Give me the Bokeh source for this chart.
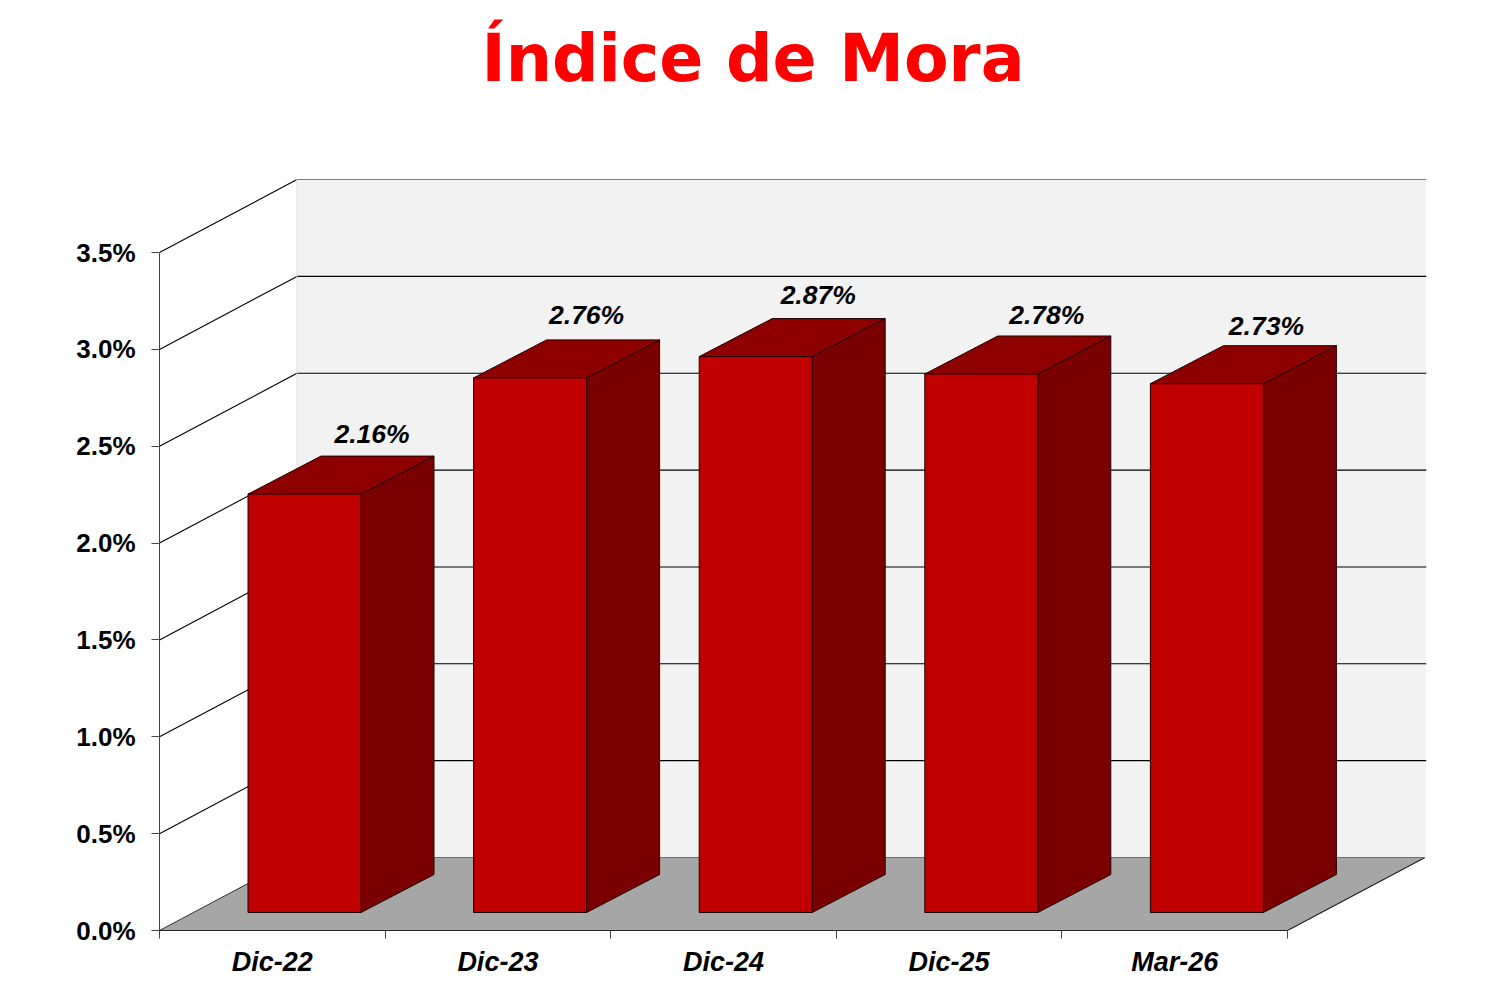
from bokeh.plotting import figure
from bokeh.models import Range1d, FixedTicker, Label
from bokeh.core.properties import value
from bokeh.embed import file_html
from bokeh.resources import INLINE

categories = ["Dic-22", "Dic-23", "Dic-24", "Dic-25", "Mar-26"]
mora = [2.16, 2.76, 2.87, 2.78, 2.73]
labels = ["2.16%", "2.76%", "2.87%", "2.78%", "2.73%"]
y_ticks = [0.0, 0.5, 1.0, 1.5, 2.0, 2.5, 3.0, 3.5]
y_tick_labels = ["0.0%", "0.5%", "1.0%", "1.5%", "2.0%", "2.5%", "3.0%", "3.5%"]
title_text = "Índice de Mora"

# layout in pixels; the data go through the figure's own ranges
W, H = 1486, 979
L, R, T, B = 159, 60, 179, 49
fw, fh = W - L - R, H - T - B
cat_px = 225.6
val_px = 193.7
xr = fw / cat_px
yr = fh / val_px
dx_px, dy_px = 137.5, 73.0      # depth of the chart box
dx, dy = dx_px / cat_px, dy_px / val_px
bar_w = 113.0 / cat_px
bdx, bdy = 73.0 / cat_px, 38.0 / val_px
off_y = 18.0 / val_px           # bar front offset from the front edge
label_dx_px = [124, 113, 119, 122, 116]
label_dy_px = [22, 25, 24, 21, 20]

p = figure(width=W, height=H, output_backend="svg", toolbar_location=None,
           x_range=Range1d(0, xr), y_range=Range1d(0, yr),
           min_border_left=L, min_border_right=R, min_border_top=T, min_border_bottom=B,
           outline_line_color=None, background_fill_color="white", border_fill_color="white")
p.grid.visible = False

p.add_layout(Label(x=752.5 - L, y=T - 58, x_units="screen", y_units="screen", text=title_text,
                   text_align="center", text_baseline="alphabetic", text_color="#FF0000",
                   text_font="DejaVu Sans", text_font_style="bold", text_font_size="65px"),
             "above")

# back wall
p.patch([dx, xr, xr, dx], [dy, dy, dy + 3.5, dy + 3.5], fill_color="#F2F2F2", line_color=None)
# floor
p.patch([0, 5, 5 + dx, dx], [0, 0, dy, dy], fill_color="#A6A6A6", line_color=None)
p.line([0, 5, 5 + dx], [0, 0, dy], line_color="#222222", line_width=1.2)
p.line([dx, 5 + dx], [dy, dy], line_color="#707070", line_width=1)

# gridlines along side wall and back wall
for v in y_ticks[1:]:
    p.line([0, dx, xr], [v, v + dy, v + dy], line_color="black", line_width=1.1)
p.line([0, dx], [0, dy], line_color="#333333", line_width=1)
p.line([dx, dx], [dy, dy + 3.5], line_color="#DDDDDD", line_width=1)

# bars
for i, (v, lab) in enumerate(zip(mora, labels)):
    x0 = i + 88.5 / cat_px
    x1 = x0 + bar_w
    y0 = off_y
    y1 = y0 + v
    p.patch([x1, x1 + bdx, x1 + bdx, x1], [y0, y0 + bdy, y1 + bdy, y1],
            fill_color="#7A0000", line_color="#200000", line_width=1)
    p.patch([x0, x1, x1 + bdx, x0 + bdx], [y1, y1, y1 + bdy, y1 + bdy],
            fill_color="#8E0000", line_color="#200000", line_width=1)
    p.patch([x0, x1, x1, x0], [y0, y0, y1, y1],
            fill_color="#C00000", line_color="#200000", line_width=1)
    p.text([x0 + label_dx_px[i] / cat_px], [y1 + bdy + label_dy_px[i] / val_px], text=[lab],
           text_align="center", text_baseline="middle",
           text_font=value("Liberation Sans"), text_font_style="bold italic",
           text_font_size="26.5px", text_color="black")

# axes
ya = p.yaxis[0]
ya.bounds = (0, 3.5)
ya.ticker = FixedTicker(ticks=y_ticks)
ya.major_label_overrides = dict(zip(y_ticks, y_tick_labels))
ya.major_tick_in = 0
ya.major_tick_out = 8
ya.major_tick_line_color = "#444444"
ya.minor_tick_line_color = None
ya.axis_line_color = "#444444"
ya.major_label_standoff = 16
ya.major_label_text_font = "Liberation Sans"
ya.major_label_text_font_style = "bold"
ya.major_label_text_font_size = "26px"
ya.major_label_text_color = "black"

xa = p.xaxis[0]
xa.bounds = (0, 5)
centers = [i + 0.5 for i in range(len(categories))]
xa.ticker = FixedTicker(ticks=centers, minor_ticks=list(range(len(categories) + 1)))
xa.major_label_overrides = dict(zip(centers, categories))
xa.major_tick_line_color = None
xa.major_tick_in = 0
xa.major_tick_out = 0
xa.minor_tick_in = 0
xa.minor_tick_out = 8
xa.minor_tick_line_color = "#444444"
xa.axis_line_color = "#222222"
xa.major_label_standoff = 8
xa.major_label_text_font = "Liberation Sans"
xa.major_label_text_font_style = "bold italic"
xa.major_label_text_font_size = "27px"
xa.major_label_text_color = "black"

open("out.html", "w").write(file_html(p, INLINE))
